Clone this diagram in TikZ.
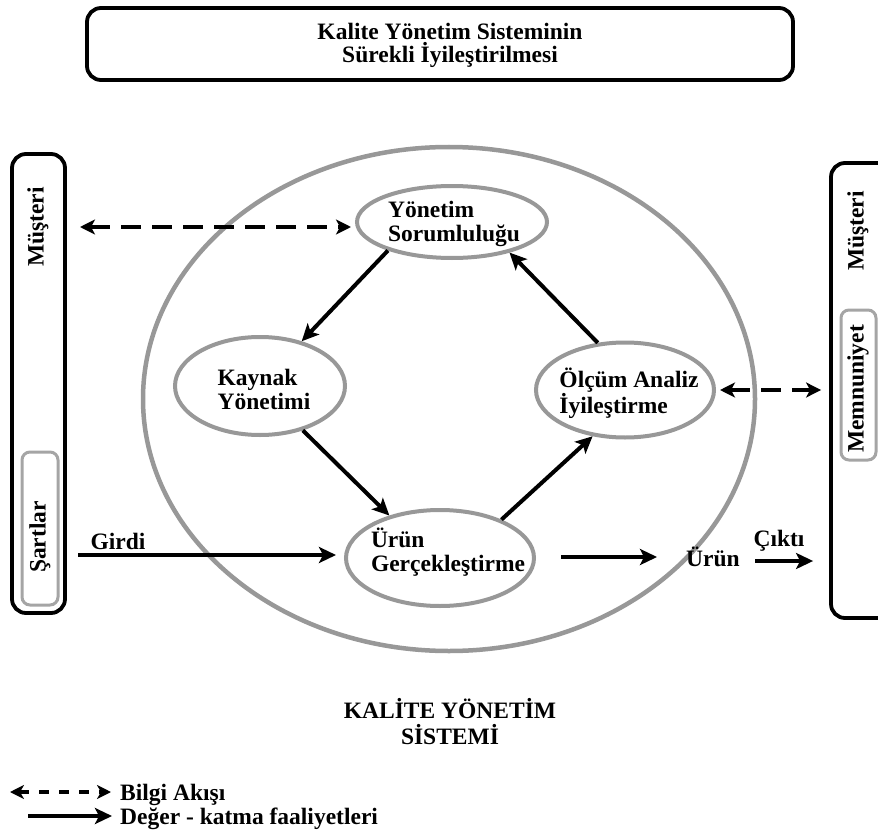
\documentclass[tikz,border=0pt]{standalone}
\usepackage{fontspec}
\setmainfont{Liberation Serif}
\usetikzlibrary{arrows.meta,shapes.geometric,calc}
\definecolor{ringgray}{RGB}{152,152,152}
\definecolor{boxgray}{RGB}{165,165,165}
\begin{document}
\begin{tikzpicture}[x=1pt,y=-1pt,
  every node/.style={font=\fontsize{23.5}{24}\selectfont\bfseries, inner sep=0pt},
  txt/.style={align=center},
  ltxt/.style={align=left},
  grayell/.style={ellipse, draw=ringgray, line width=4pt},
  framebox/.style={draw=black, line width=3.8pt, rounded corners=14pt},
  subbox/.style={draw=boxgray, line width=3pt, rounded corners=8pt},
  solidarrow/.style={line width=4pt, -{Stealth[length=17pt,width=16pt,inset=4pt]}},
  dasharrow/.style={line width=4pt, dash pattern=on 20pt off 11pt,
     {Stealth[length=15pt,width=15pt,inset=4pt]}-{Stealth[length=15pt,width=15pt,inset=4pt]}},
  legdash/.style={line width=4pt, dash pattern=on 10pt off 10pt,
     {Stealth[length=14pt,width=14pt,inset=4pt]}-{Stealth[length=14pt,width=14pt,inset=4pt]}},
]
\clip (0,0) rectangle (878,840);
\fill[white] (0,0) rectangle (878,840);

% title box
\node[framebox, minimum width=706pt, minimum height=72pt] (topbox) at (440,44) {};
\node[txt, font=\fontsize{23.5}{23}\selectfont\bfseries] (title) at (450,45) {Kalite Yönetim Sisteminin\\Sürekli İyileştirilmesi};

% left customer box
\node[framebox, minimum width=53pt, minimum height=459pt] (lbox) at (38.5,383.5) {};
\node[subbox, minimum width=36pt, minimum height=153pt] (sbox) at (40,528.5) {};
\node[rotate=90] (lmus) at (38,227) {Müşteri};
\node[rotate=90] (sart) at (40,537) {Şartlar};

% right customer box
\node[framebox, minimum width=70pt, minimum height=455pt] (rbox) at (866,390.5) {};
\node[subbox, minimum width=35pt, minimum height=150pt] (mbox) at (858.5,385) {};
\node[rotate=90] (rmus) at (858,231) {Müşteri};
\node[rotate=90] (memn) at (858,389) {Memnuniyet};

% big system ellipse
\node[ellipse, draw=ringgray, line width=4.5pt, minimum width=612pt, minimum height=504pt] (kys) at (449,399) {};

% process ellipses
\node[grayell, minimum width=190pt, minimum height=72pt] (yon) at (452,222) {};
\node[grayell, minimum width=170pt, minimum height=98pt] (kay) at (260,386) {};
\node[grayell, minimum width=178pt, minimum height=95pt] (olc) at (625,390) {};
\node[grayell, minimum width=188pt, minimum height=96pt] (urun) at (440,558) {};
\node[ltxt] (yont) at (454,224) {Yönetim\\Sorumluluğu};
\node[ltxt] (kayt) at (264,389) {Kaynak\\Yönetimi};
\node[ltxt] (olct) at (629,393) {Ölçüm Analiz\\İyileştirme};
\node[ltxt] (urunt) at (448,552) {Ürün\\Gerçekleştirme};

% cycle arrows
\draw[solidarrow] (yon.204) -- (kay.47);
\draw[solidarrow] (kay.-46) -- (urun.140);
\draw[solidarrow] (urun.32) -- (olc.235);
\draw[solidarrow] (olc.120) -- (yon.-28);

% information flows
\coordinate (lfree) at (80,227);
\coordinate (lend) at (351,227);
\draw[dasharrow] (lfree) -- (lend);
\draw[dasharrow, shorten <=4pt, shorten >=8pt] (olc.east) -- (olc.east -| rbox.west);

% input / output
\coordinate (gin) at (78,555);
\draw[solidarrow, shorten >=8pt] (gin) -- (gin -| urun.west);
\node (girdi) at (118,541) {Girdi};
\node (urunout) at (713,557) {Ürün};
\draw[solidarrow, shorten <=25pt, shorten >=29pt] (urun.east |- urunout) -- (urunout.west);
\coordinate (cin) at (755,561);
\draw[solidarrow, shorten >=16pt] (cin) -- (cin -| rbox.west);
\node (cikti) at (779,541) {Çıktı};

% system label
\node[txt, font=\fontsize{23.5}{26}\selectfont\bfseries] (kyslab) at (450,722) {KALİTE YÖNETİM\\SİSTEMİ};

% legend
\coordinate (la) at (10,792);
\coordinate (lb) at (111,792);
\draw[legdash] (la) -- (lb);
\node[anchor=base west] (leg1) at (120,800) {Bilgi Akışı};
\coordinate (lc) at (28,816);
\coordinate (ld) at (112,816);
\draw[solidarrow] (lc) -- (ld);
\node[anchor=base west] (leg2) at (120,824) {Değer - katma faaliyetleri};
\end{tikzpicture}
\end{document}
